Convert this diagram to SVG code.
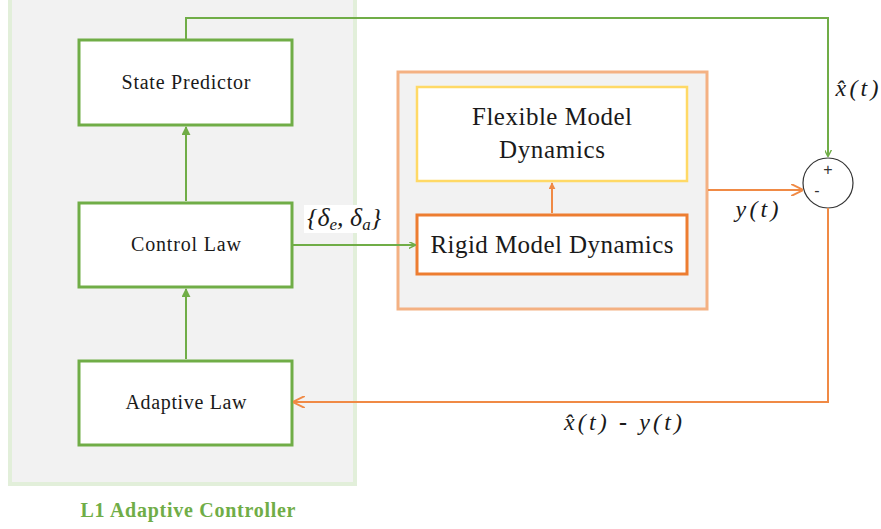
<svg xmlns="http://www.w3.org/2000/svg" width="881" height="529" viewBox="0 0 881 529">
<style>
.node{fill:#ffffff;stroke:#70ad47;stroke-width:3}
.lbl{font-family:'Liberation Serif','DejaVu Serif','Times New Roman',serif;fill:#1a1a1a;text-anchor:middle}
.math{font-family:'Liberation Serif','DejaVu Serif','Times New Roman',serif;font-style:italic;fill:#1a1a1a;text-anchor:middle;font-size:24px}
.g{fill:none;stroke:#70ad47;stroke-width:2}
.o{fill:none;stroke:#f08a45;stroke-width:2}
</style>
<defs>
<marker id="ag" viewBox="0 0 10 10" refX="9" refY="5" markerWidth="7" markerHeight="7" orient="auto" markerUnits="userSpaceOnUse"><path d="M0,0 L10,5 L0,10" fill="none" stroke="#70ad47" stroke-width="2"/></marker>
<marker id="agf" viewBox="0 0 10 10" refX="9" refY="5" markerWidth="9" markerHeight="9" orient="auto" markerUnits="userSpaceOnUse"><path d="M0,0 L10,5 L0,10 Z" fill="#70ad47"/></marker>
<marker id="ao" viewBox="0 0 10 10" refX="9" refY="5" markerWidth="12" markerHeight="12" orient="auto" markerUnits="userSpaceOnUse"><path d="M0,0 L10,5 L0,10" fill="none" stroke="#f08a45" stroke-width="1.6"/></marker>
<marker id="aof" viewBox="0 0 10 10" refX="9" refY="5" markerWidth="7" markerHeight="7" orient="auto" markerUnits="userSpaceOnUse"><path d="M0,0 L10,5 L0,10 Z" fill="#f08a45"/></marker>
</defs>
<rect width="881" height="529" fill="#ffffff"/>
<g id="controller-panel">
<rect x="10" y="-5" width="345" height="489" fill="#f2f2f2" stroke="#e2efda" stroke-width="4"/>
<text class="lbl" x="188" y="517" font-weight="bold" font-size="20" style="fill:#70ad47" textLength="215" lengthAdjust="spacing">L1 Adaptive Controller</text>
</g>
<g id="plant-panel">
<rect x="398" y="72" width="309" height="237" fill="#f2f2f2" stroke="#f4b183" stroke-width="3"/>
</g>
<g id="state-predictor">
<rect class="node" x="79" y="40" width="213" height="85"/>
<text class="lbl" x="186" y="89" font-size="20" textLength="129" lengthAdjust="spacing">State Predictor</text>
</g>
<g id="control-law">
<rect class="node" x="79" y="203" width="213" height="84"/>
<text class="lbl" x="186" y="251" font-size="20" textLength="110" lengthAdjust="spacing">Control Law</text>
</g>
<g id="adaptive-law">
<rect class="node" x="79" y="361" width="213" height="84"/>
<text class="lbl" x="186" y="409" font-size="20" textLength="121" lengthAdjust="spacing">Adaptive Law</text>
</g>
<g id="flexible-model">
<rect x="417" y="87" width="270" height="94" fill="#ffffff" stroke="#ffd966" stroke-width="2.5"/>
<text class="lbl" x="552" y="125" font-size="25" textLength="160" lengthAdjust="spacing">Flexible Model</text>
<text class="lbl" x="552" y="158" font-size="25" textLength="106" lengthAdjust="spacing">Dynamics</text>
</g>
<g id="rigid-model">
<rect x="417" y="215" width="270" height="59" fill="#ffffff" stroke="#ed7d31" stroke-width="3"/>
<text class="lbl" x="552" y="253" font-size="25" textLength="243" lengthAdjust="spacing">Rigid Model Dynamics</text>
</g>
<g id="sum">
<circle cx="828" cy="183" r="25" fill="#ffffff" stroke="#333333" stroke-width="1.2"/>
<text x="828" y="175" font-family="'Liberation Sans',sans-serif" font-size="16" fill="#333" text-anchor="middle">+</text>
<text x="817" y="196" font-family="'Liberation Sans',sans-serif" font-size="16" fill="#333" text-anchor="middle">-</text>
</g>
<g id="connectors">
<path class="g" d="M186,201 L186,127" marker-end="url(#agf)" stroke-width="3"/>
<path class="g" d="M186,359 L186,289" marker-end="url(#agf)" stroke-width="3"/>
<path class="g" d="M186,39 L186,18 L828,18 L828,156" marker-end="url(#ag)"/>
<path class="g" d="M293,245 L415,245" marker-end="url(#ag)"/>
<path class="o" d="M552,213 L552,183" marker-end="url(#aof)" stroke-width="1.5"/>
<path class="o" d="M708,190 L802,190" marker-end="url(#ao)"/>
<path class="o" d="M828,208 L828,402 L294,402" marker-end="url(#ao)"/>
<rect x="304" y="205" width="87" height="28" fill="#ffffff"/>
<text class="math" x="307" y="226" style="text-anchor:start;font-size:26px">{δ<tspan font-size="17" dy="4">e</tspan><tspan dy="-4">, δ</tspan><tspan font-size="17" dy="4">a</tspan><tspan dy="-4">}</tspan></text>
<text class="math" x="757" y="217" textLength="43" lengthAdjust="spacing">y(t)</text>
<text class="math" x="857" y="96" textLength="43" lengthAdjust="spacing">x̂(t)</text>
<text class="math" x="623" y="430" textLength="118" lengthAdjust="spacing">x̂(t)<tspan font-style="normal" font-weight="bold"> - </tspan>y(t)</text>
</g>
</svg>
